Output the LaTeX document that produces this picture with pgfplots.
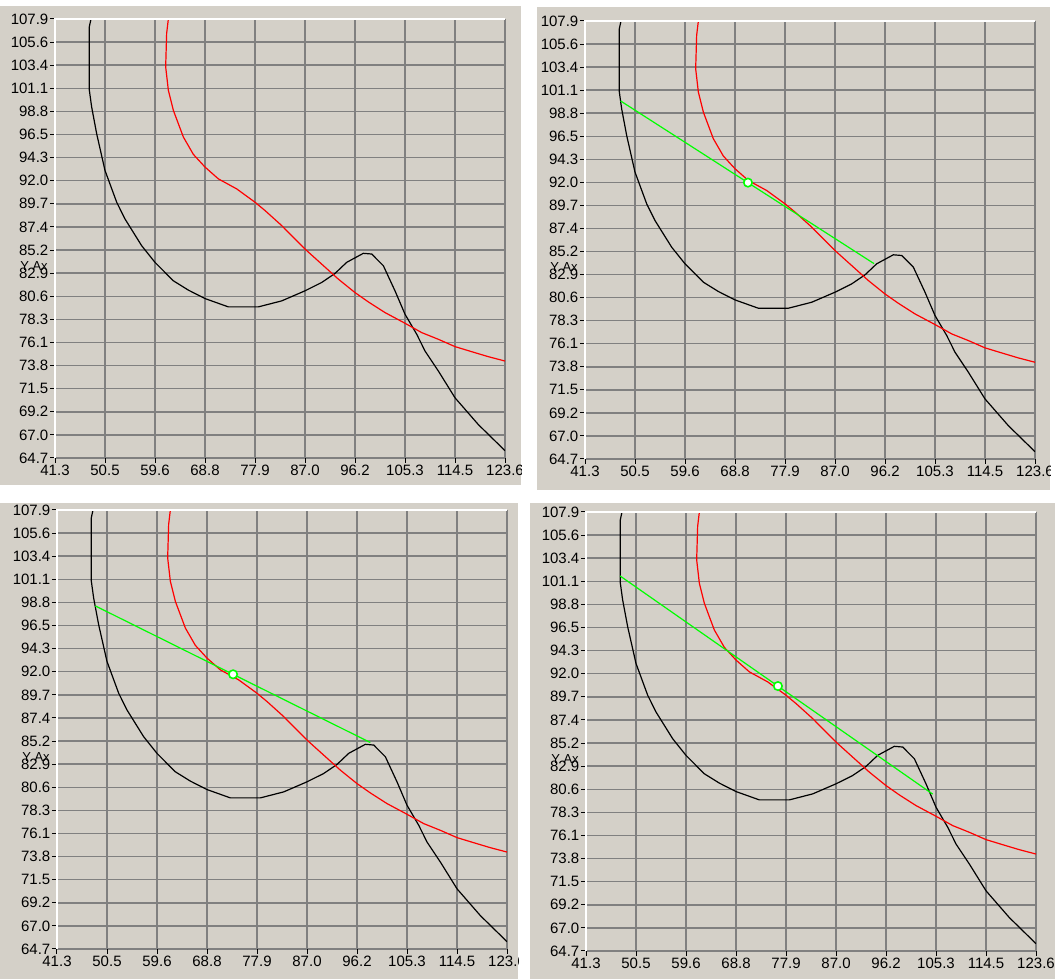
\documentclass[border=0pt]{standalone}
\usepackage{pgfplots}
\pgfplotsset{compat=1.18}
\usepackage{pgfplotstable}
\usepackage{fontspec}
\setmainfont{Liberation Sans}
\definecolor{panelgray}{RGB}{212,208,200}
\definecolor{gridgray}{RGB}{128,128,128}
\definecolor{lgreen}{RGB}{0,255,0}
\definecolor{cred}{RGB}{255,0,0}

\pgfplotstableread{
x y
47.88 107.9
47.58 107.14
47.58 100.89
48.0 99.25
48.92 96.61
50.44 93.0
52.58 89.87
54.1 88.22
57.15 85.59
59.59 83.95
62.94 82.14
65.69 81.22
68.73 80.39
73.0 79.57
78.49 79.57
82.76 80.16
87.02 81.15
90.07 81.97
92.51 82.86
94.64 83.95
97.69 84.84
99.22 84.77
101.35 83.62
103.48 81.15
105.31 78.85
107.45 76.88
108.97 75.23
111.41 73.26
114.46 70.62
118.72 67.99
123.6 65.42
}\blackcurve

\pgfplotstableread{
x y
62.03 107.9
61.72 106.49
61.54 103.19
62.03 100.89
62.94 98.92
64.77 96.29
66.6 94.58
68.73 93.33
71.17 92.17
74.53 91.18
77.87 89.87
79.71 89.05
82.76 87.57
87.02 85.26
90.07 83.78
93.12 82.3
96.16 80.98
98.6 80.06
101.65 79.01
105.31 77.96
108.36 77.04
111.41 76.38
114.46 75.66
117.51 75.16
120.55 74.67
123.6 74.24
}\redcurve

\pgfplotsset{
  panel/.style={
    scale only axis, width=450pt,
    anchor=south west,
    xmin=41.3, xmax=123.6, ymin=64.7, ymax=107.9,
    xtick={41.3,50.4444,59.5889,68.7333,77.8778,87.0222,96.1667,105.3111,114.4556,123.6},
    xticklabels={41.3,50.5,59.6,68.8,77.9,87.0,96.2,105.3,114.5,123.6},
    ytick={64.7,66.9737,69.2474,71.5211,73.7947,76.0684,78.3421,80.6158,82.8895,85.1632,87.4368,89.7105,91.9842,94.2579,96.5316,98.8053,101.0789,103.3526,105.6263,107.9},
    yticklabels={64.7,67.0,69.2,71.5,73.8,76.1,78.3,80.6,82.9,85.2,87.4,89.7,92.0,94.3,96.5,98.8,101.1,103.4,105.6,107.9},
    grid=major,
    major grid style={gridgray, line width=1.5pt},
    axis line style={draw=none},
    tick pos=left, tick align=outside, major tick length=5pt,
    tick style={black, line width=1pt},
    ticklabel style={font=\fontsize{15}{15}\selectfont, inner sep=1.5pt},
    axis background/.style={fill=panelgray},
    after end axis/.code={
      \draw[white, line width=1.5pt] (rel axis cs:0,0) -- (rel axis cs:0,1) -- (rel axis cs:1,1);
    },
  },
  blk/.style={black, line width=1.2pt, no marks},
  rd/.style={cred, line width=1.2pt, no marks},
  grn/.style={lgreen, line width=1.2pt, no marks},
  circ/.style={only marks, mark=*, mark size=4.2pt, mark options={fill=white, draw=lgreen, line width=1.6pt}},
}

\begin{document}
\begin{tikzpicture}[x=1pt,y=1pt]
\useasboundingbox (0,0) rectangle (1055,979);
\fill[white] (0,0) rectangle (1055,979);

% ---------- Panel 1 (top left)
\begin{scope}
\clip (0,494) rectangle (521,973);
\fill[panelgray] (0,494) rectangle (521,973);
\begin{axis}[panel, height=439pt, at={(55pt,521pt)}]
\addplot[blk] table {\blackcurve};
\addplot[rd] table {\redcurve};
\end{axis}
\node[font=\fontsize{13}{13}\selectfont] at (34,713) {Y Ax};
\end{scope}

% ---------- Panel 2 (top right)
\begin{scope}
\clip (537,489) rectangle (1050,972);
\fill[panelgray] (537,489) rectangle (1050,972);
\begin{axis}[panel, height=438pt, at={(585pt,520pt)}]
\addplot[blk] table {\blackcurve};
\addplot[rd] table {\redcurve};
\addplot[grn] coordinates {(47.82,100.01) (94.16,83.97)};
\addplot[circ] coordinates {(71.1,91.96)};
\end{axis}
\node[font=\fontsize{13}{13}\selectfont] at (564,712) {Y Ax};
\end{scope}

% ---------- Panel 3 (bottom left)
\begin{scope}
\clip (0,0) rectangle (518,476);
\fill[panelgray] (0,0) rectangle (518,476);
\begin{axis}[panel, height=439pt, at={(57pt,30pt)}]
\addplot[blk] table {\blackcurve};
\addplot[rd] table {\redcurve};
\addplot[grn] coordinates {(48.31,98.46) (98.6,85.02)};
\addplot[circ] coordinates {(73.5,91.73)};
\end{axis}
\node[font=\fontsize{13}{13}\selectfont] at (36,222) {Y Ax};
\end{scope}

% ---------- Panel 4 (bottom right)
\begin{scope}
\clip (530,0) rectangle (1055,476);
\fill[panelgray] (530,0) rectangle (1055,476);
\begin{axis}[panel, height=439pt, at={(586pt,28pt)}]
\addplot[blk] table {\blackcurve};
\addplot[rd] table {\redcurve};
\addplot[grn] coordinates {(47.52,101.61) (104.7,80.14)};
\addplot[circ] coordinates {(76.4,90.77)};
\end{axis}
\node[font=\fontsize{13}{13}\selectfont] at (565,220) {Y Ax};
\end{scope}
\end{tikzpicture}
\end{document}
